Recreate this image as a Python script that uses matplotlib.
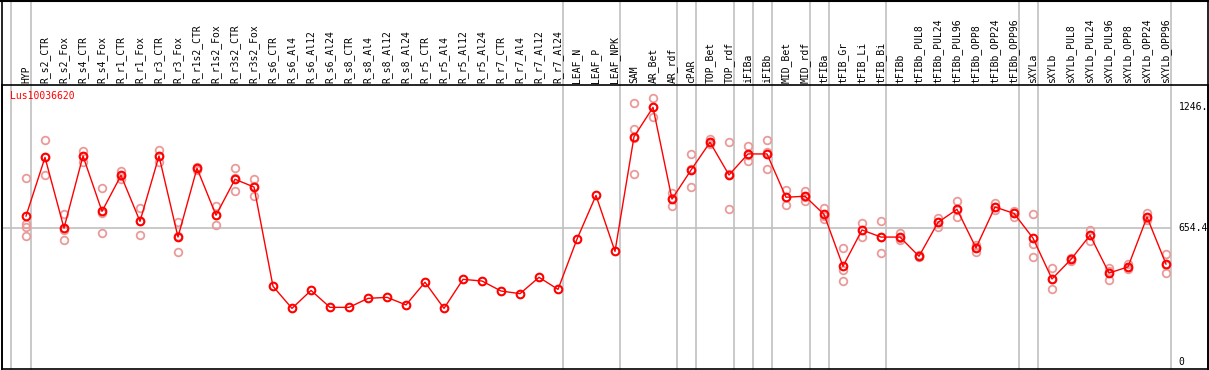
import matplotlib
matplotlib.use('Agg')
import matplotlib.pyplot as plt
from matplotlib.lines import Line2D

GENE = 'Lus10036620'

samples = ['HYP', 'R_s2_CTR', 'R_s2_Fox', 'R_s4_CTR', 'R_s4_Fox', 'R_r1_CTR',
           'R_r1_Fox', 'R_r3_CTR', 'R_r3_Fox', 'R_r1s2_CTR', 'R_r1s2_Fox',
           'R_r3s2_CTR', 'R_r3s2_Fox', 'R_s6_CTR', 'R_s6_Al4', 'R_s6_Al12',
           'R_s6_Al24', 'R_s8_CTR', 'R_s8_Al4', 'R_s8_Al12', 'R_s8_Al24',
           'R_r5_CTR', 'R_r5_Al4', 'R_r5_Al12', 'R_r5_Al24', 'R_r7_CTR',
           'R_r7_Al4', 'R_r7_Al12', 'R_r7_Al24', 'LEAF_N', 'LEAF_P', 'LEAF_NPK',
           'SAM', 'AR_Bet', 'AR_rdf', 'cPAR', 'TOP_Bet', 'TOP_rdf', 'iFIBa',
           'iFIBb', 'MID_Bet', 'MID_rdf', 'tFIBa', 'tFIB_Gr', 'tFIB_Li',
           'tFIB_Bi', 'tFIBb', 'tFIBb_PUL8', 'tFIBb_PUL24', 'tFIBb_PUL96',
           'tFIBb_OPP8', 'tFIBb_OPP24', 'tFIBb_OPP96', 'sXYLa', 'sXYLb',
           'sXYLb_PUL8', 'sXYLb_PUL24', 'sXYLb_PUL96', 'sXYLb_OPP8',
           'sXYLb_OPP24', 'sXYLb_OPP96']

# mean expression per sample
means = [713, 1000, 654, 1007, 736, 912, 687, 1007, 610, 947, 717, 893, 855,
         369, 261, 349, 266, 266, 310, 315, 278, 389, 261, 403, 395, 346, 333,
         413, 354, 600, 814, 540, 1101, 1245, 796, 938, 1074, 914, 1017, 1017,
         805, 810, 721, 467, 645, 610, 610, 516, 682, 746, 557, 757, 726, 605,
         405, 501, 619, 434, 464, 708, 478]

# replicate values (empty where only the mean is shown)
replicates = [
    [898, 672, 660, 615], [1085, 912, 1003], [721, 594, 647], [1033, 979, 1009],
    [850, 628, 730], [935, 910, 892], [751, 619, 691], [1036, 979, 1006],
    [682, 535, 613], [955, 947, 940], [762, 671, 718], [947, 834, 898],
    [894, 811, 860],
    [], [], [], [], [], [], [], [], [], [], [], [], [], [], [], [], [], [], [],
    [1265, 1137, 1093, 919], [1291, 1196, 1248], [827, 762, 799],
    [1017, 854, 943], [1092, 1074, 1065], [1075, 747, 920], [1056, 981, 1014],
    [1084, 942, 1025], [841, 769, 805], [837, 787, 806], [751, 700, 712],
    [555, 449, 394], [679, 609, 647], [689, 531, 610], [628, 605, 598],
    [520, 516, 512], [705, 659, 682], [787, 707, 744], [573, 538, 560],
    [775, 742, 755], [739, 710, 729], [721, 575, 511], [457, 354, 404],
    [509, 501, 495], [645, 592, 620], [457, 401, 444], [477, 464, 455],
    [729, 694, 701], [526, 433, 475],
]

# last sample index of each tissue group (separator lines drawn after them)
group_ends = [-1, 0, 28, 31, 34, 35, 37, 38, 39, 41, 42, 45, 52, 53, 60]
y_ticks = [1246, 654.4, 0]
y_tick_labels = ['1246.', '654.4', '0']
mid_line = 654.4

W, H = 1209, 370
fig = plt.figure(figsize=(W / 100, H / 100), dpi=100)
fig.patch.set_facecolor('white')

# plot region in pixels
left_px, right_px, top_px, bot_px = 1.5, 1207.5, 85.3, 368.7
ax = fig.add_axes([left_px / W, (H - bot_px) / H,
                   (right_px - left_px) / W, (bot_px - top_px) / H])
x0, dx = 26, 19
ax.set_xlim((left_px - x0) / dx, (right_px - x0) / dx)
ax.set_ylim(-34.3, 1353)
ax.set_xticks([])
ax.set_yticks([])
for s in ax.spines.values():
    s.set_color('black')
    s.set_linewidth(1.2)

grey = '#c0c0c0'
frac_top = (bot_px - 0) / (bot_px - top_px)
for g in group_ends:
    xg = g + 0.24 if g >= 0 else -0.78
    ax.axvline(xg, ymin=0, ymax=frac_top, color=grey, lw=1.2, clip_on=False, zorder=1)

last_x = group_ends[-1] + 0.24
ax.hlines(mid_line, ax.get_xlim()[0], last_x, color=grey, lw=1.2, zorder=1)

xs = list(range(len(samples)))
mono = 'DejaVu Sans Mono'

# replicate points
rep_x, rep_y = [], []
for i, reps in enumerate(replicates):
    for r in reps:
        rep_x.append(i)
        rep_y.append(r)
ax.plot(rep_x, rep_y, ls='none', marker='o', ms=5.5, mfc='none',
        mec='#eb9a9a', mew=1.3, zorder=2)

ax.plot(xs, means, color='red', lw=1.0, zorder=3)
ax.plot(xs, means, ls='none', marker='o', ms=5.5, mfc='none', mec='red',
        mew=1.5, zorder=4)

# header labels
for i, name in enumerate(samples):
    ax.text(i, 1364, name, rotation=90, ha='center', va='bottom',
            fontsize=7, family=mono, color='black', clip_on=False)

ax.text(-0.85, 1300, GENE, ha='left', va='center', fontsize=7, family=mono,
        color='red')

for v, lab in zip(y_ticks, y_tick_labels):
    ax.text(60.66, v, lab, ha='left', va='center', fontsize=7, family=mono,
            color='black')

# header frame
fig.add_artist(Line2D([left_px / W, left_px / W], [0, 1], color='black', lw=1.2))
fig.add_artist(Line2D([right_px / W, right_px / W], [0, 1], color='black', lw=1.2))
fig.add_artist(Line2D([0, 1], [1 - 0.6 / H, 1 - 0.6 / H], color='black', lw=1.5))

fig.savefig('out.png', dpi=100)
